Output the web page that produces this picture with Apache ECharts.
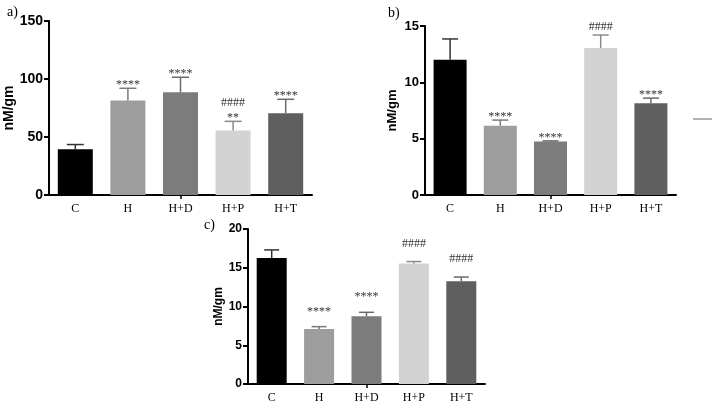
<!DOCTYPE html>
<html><head><meta charset="utf-8">
<script src="https://cdn.jsdelivr.net/npm/echarts@6/dist/echarts.min.js"></script>
<style>html,body{margin:0;padding:0;background:#fff}#c{width:714px;height:401px}</style>
</head><body><div id="c"></div>
<script>
const categories = ['C', 'H', 'H+D', 'H+P', 'H+T'];

const valuesA = [39.5, 81.5, 88.5, 55.5, 70.5];
const errTopA = [43.5, 92, 101.5, 63.5, 82.5];
const ticksA = [0, 50, 100, 150];
const annotA = [[], ['****'], ['****'], ['####', '**'], ['****']];

const valuesB = [12.0, 6.15, 4.75, 13.05, 8.15];
const errTopB = [13.85, 6.65, 4.8, 14.2, 8.6];
const ticksB = [0, 5, 10, 15];
const annotB = [[], ['****'], ['****'], ['####'], ['****']];

const valuesC = [16.25, 7.1, 8.75, 15.55, 13.25];
const errTopC = [17.3, 7.4, 9.25, 15.8, 13.8];
const ticksC = [0, 5, 10, 15, 20];
const annotC = [[], ['****'], ['****'], ['####'], ['####']];

const barColors = ['#000000', '#9d9d9d', '#7c7c7c', '#d3d3d3', '#5f5f5f'];
const errColors = ['#333333', '#7a7a7a', '#6a6a6a', '#8a8a8a', '#6a6a6a'];
const SERIF = '"Liberation Serif","Times New Roman",serif';
const SANS = '"Liberation Sans",Arial,sans-serif';

const panels = [
  {values: valuesA, err: errTopA, ticks: ticksA, annot: annotA, grid: {left: 49, top: 21, width: 263, height: 174}, barW: 35, capW: 17, fs: 14, nameGap: 32, label: 'a)', lx: 7, ly: 5},
  {values: valuesB, err: errTopB, ticks: ticksB, annot: annotB, grid: {left: 425, top: 26, width: 251, height: 169}, barW: 33, capW: 16, fs: 13, nameGap: 26, label: 'b)', lx: 388, ly: 6},
  {values: valuesC, err: errTopC, ticks: ticksC, annot: annotC, grid: {left: 248, top: 229, width: 237, height: 155}, barW: 30, capW: 15, fs: 12, nameGap: 18, label: 'c)', lx: 204, ly: 218}
];

const grid = [], xAxis = [], yAxis = [], series = [], graphic = [];
panels.forEach((p, i) => {
  grid.push(Object.assign({containLabel: false, outerBoundsMode: 'none'}, p.grid));
  const max = p.ticks[p.ticks.length - 1];
  const interval = p.ticks[1] - p.ticks[0];
  xAxis.push({
    type: 'category', gridIndex: i, data: categories,
    axisLine: {lineStyle: {color: '#000', width: 2}},
    axisTick: {show: true, alignWithLabel: true, length: 4, interval: (idx) => idx === 2, lineStyle: {color: '#000', width: 1.5}},
    axisLabel: {color: '#000', fontFamily: SERIF, fontSize: 12, margin: 8, interval: 0}
  });
  yAxis.push({
    type: 'value', gridIndex: i, min: 0, max: max, interval: interval,
    name: 'nM/gm', nameLocation: 'middle', nameGap: p.nameGap,
    nameTextStyle: {color: '#000', fontFamily: SANS, fontWeight: 'bold', fontSize: p.fs},
    axisLine: {show: true, lineStyle: {color: '#000', width: 2}},
    axisTick: {show: true, length: 5, lineStyle: {color: '#000', width: 2}},
    axisLabel: {color: '#000', fontFamily: SANS, fontWeight: 'bold', fontSize: p.fs, margin: 6},
    splitLine: {show: false}
  });
  series.push({
    type: 'bar', xAxisIndex: i, yAxisIndex: i, barWidth: p.barW,
    data: p.values.map((v, k) => ({value: v, itemStyle: {color: barColors[k]}})),
    silent: true, animation: false
  });
  series.push({
    type: 'custom', xAxisIndex: i, yAxisIndex: i, silent: true, animation: false, z: 3,
    data: p.values.map((v, k) => [k, v, p.err[k]]),
    renderItem: (params, api) => {
      const k = api.value(0);
      const a = api.coord([k, api.value(1)]);
      const b = api.coord([k, api.value(2)]);
      const st = {stroke: errColors[k], lineWidth: 1.5};
      return {type: 'group', children: [
        {type: 'line', shape: {x1: a[0], y1: a[1], x2: b[0], y2: b[1]}, style: st},
        {type: 'line', shape: {x1: b[0] - p.capW / 2, y1: b[1], x2: b[0] + p.capW / 2, y2: b[1]}, style: st}
      ]};
    }
  });
  series.push({
    type: 'custom', xAxisIndex: i, yAxisIndex: i, silent: true, animation: false, z: 4,
    data: p.values.map((v, k) => [k, p.err[k]]),
    renderItem: (params, api) => {
      const k = api.value(0);
      const lines = p.annot[k];
      if (!lines.length) return null;
      const b = api.coord([k, api.value(1)]);
      let gap = 2;
      if (i === 2 && (k === 1 || k === 2)) gap = 14;
      if (i === 2 && (k === 3 || k === 4)) gap = 12;
      const children = [];
      for (let j = lines.length - 1, n = 0; j >= 0; j--, n++) {
        const isStar = lines[j].indexOf('*') >= 0;
        children.push({type: 'text', style: {
          text: lines[j], x: b[0], y: b[1] - gap - n * 10 + (isStar ? 5 : 0),
          align: 'center', verticalAlign: 'bottom',
          font: '12px ' + SERIF, fill: '#333'
        }});
      }
      return {type: 'group', children: children};
    }
  });
  graphic.push({type: 'text', left: p.lx, top: p.ly, style: {text: p.label, font: '14px ' + SERIF, fill: '#000'}});
});
graphic.push({type: 'line', shape: {x1: 693, y1: 119, x2: 712, y2: 119}, style: {stroke: '#999', lineWidth: 1.5}});

const chart = echarts.init(document.getElementById('c'), null, {renderer: 'canvas'});
chart.setOption({animation: false, backgroundColor: '#fff', grid, xAxis, yAxis, series, graphic});
</script></body></html>
